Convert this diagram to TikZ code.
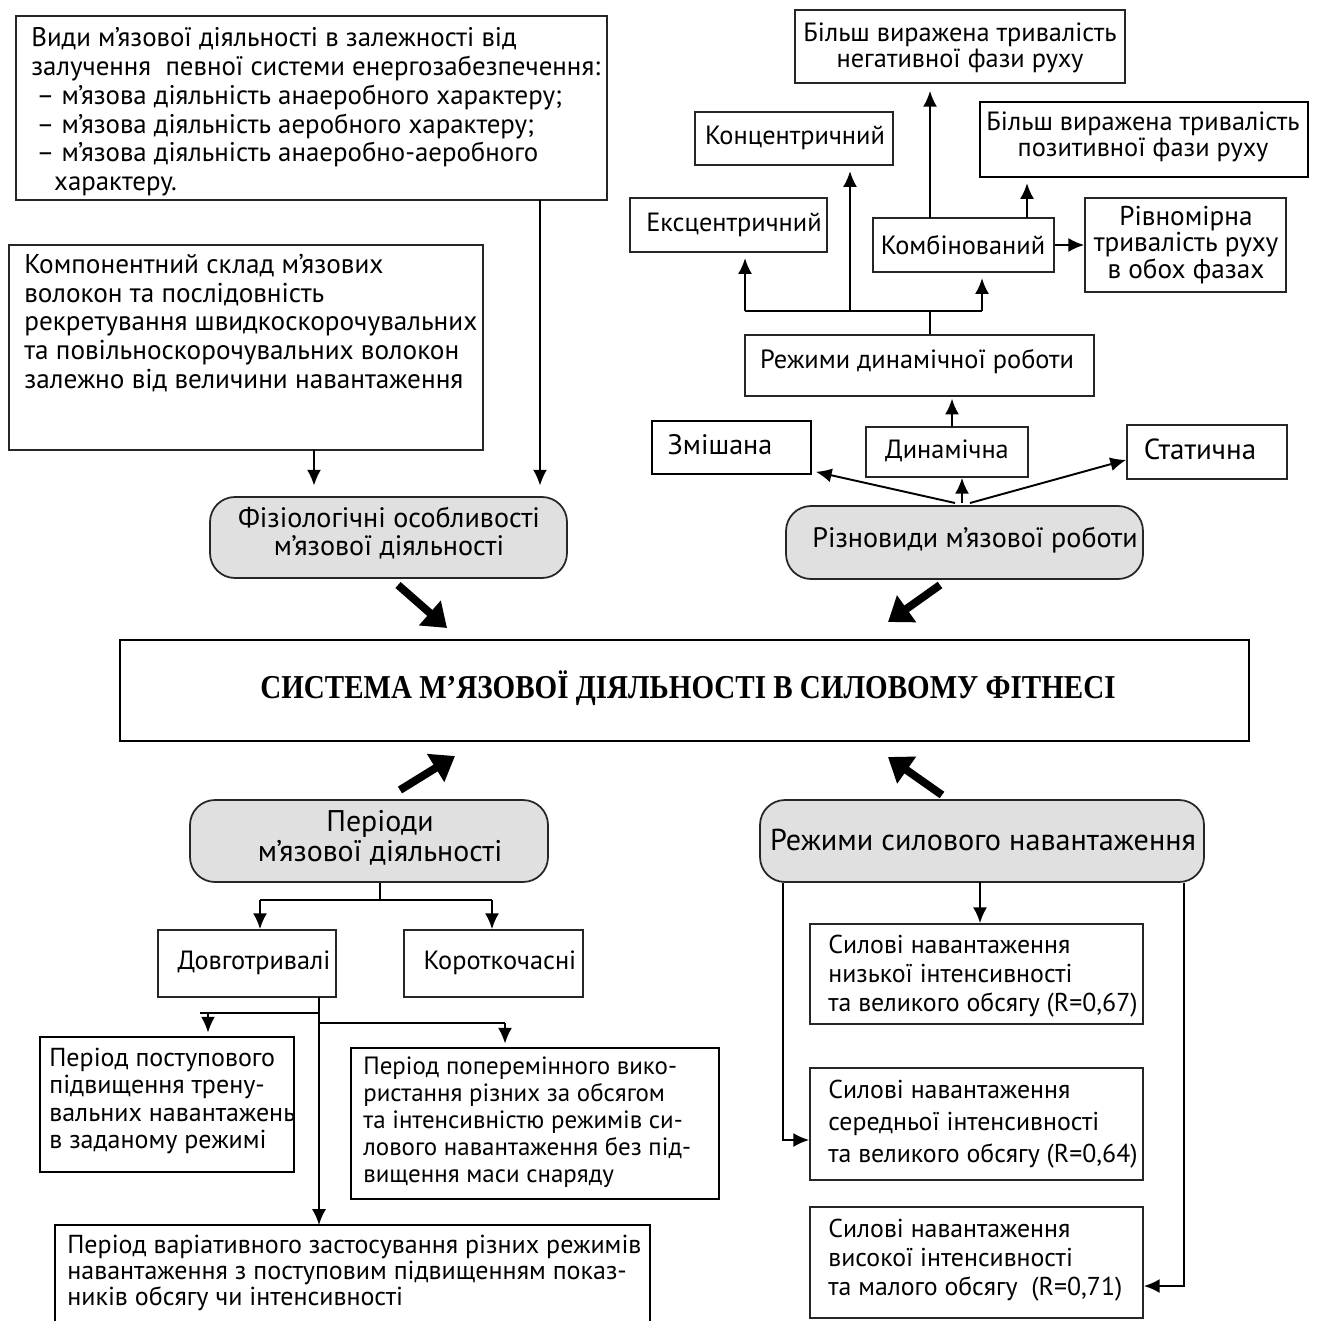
\documentclass[tikz,border=0pt]{standalone}
\usepackage{fontspec}
\usepackage{graphicx}
\setmainfont{PT Sans}
\newfontfamily\titlefont{Liberation Serif}
\usetikzlibrary{arrows.meta,fit,calc}
\begin{document}
\begin{tikzpicture}[x=0.02cm,y=-0.02cm,
 bx/.style={draw=black!85, line width=1pt, inner sep=0pt},
 rbx/.style={draw=black!85, line width=1pt, inner sep=0pt, rounded corners=0.5cm, fill=black!12},
 txt/.style={inner sep=0pt, align=left, font=\fontsize{15}{16.4}\selectfont},
 ctxt/.style={inner sep=0pt, align=center, font=\fontsize{15}{15.5}\selectfont},
 conn/.style={line width=1.1pt, draw=black},
 arr/.style={conn, -{Latex[length=9pt,width=8pt]}},
 bigarr/.style={line width=4.5pt, -{Triangle[length=13pt,width=18pt]}},
]
\fill[white] (0,0) rectangle (1319,1321);
\useasboundingbox (0,0) rectangle (1319,1321);

% ---- top left
\node[bx, fit={(16,16)(607,200)}] (A) {};
\node[txt, anchor=west, font=\fontsize{15.3}{16.4}\selectfont] (At) at (31,112) {Види м’язової діяльності в залежності від\\залучення\ \ певної системи енергозабезпечення:\\\hspace*{3pt}– м’язова діяльність анаеробного характеру;\\\hspace*{3pt}– м’язова діяльність аеробного характеру;\\\hspace*{3pt}– м’язова діяльність анаеробно-аеробного\\\hspace*{13pt}характеру.};
\node[bx, fit={(9,245)(483,450)}] (B) {};
\node[txt, anchor=west, font=\fontsize{15.5}{16.4}\selectfont] (Bt) at (24,323) {Компонентний склад м’язових\\волокон та послідовність\\рекретування швидкоскорочувальних\\та повільноскорочувальних волокон\\залежно від величини навантаження};
\node[rbx, fit={(210,497)(567,578)}] (Ph) {};
\node[ctxt, font=\fontsize{16}{15.5}\selectfont] (Pht) at (389,533) {Фізіологічні особливості\\м’язової діяльності};

% ---- top right
\node[bx, fit={(795,10)(1125,83)}] (Neg) {};
\node[ctxt, font=\fontsize{15}{14.7}\selectfont] (Negt) at (960,48) {Більш виражена тривалість\\негативної фази руху};
\node[bx, fit={(695,112)(893,165)}] (Kon) {};
\node[ctxt] (Kont) at (795,138) {Концентричний};
\node[bx, draw=black, fit={(980,102)(1308,177)}] (Pos) {};
\node[ctxt, font=\fontsize{15}{14.7}\selectfont] (Post) at (1143,137) {Більш виражена тривалість\\позитивної фази руху};
\node[bx, fit={(630,198)(827,252)}] (Ecc) {};
\node[ctxt] (Ecct) at (734,225) {Ексцентричний};
\node[bx, fit={(873,218)(1054,272)}] (Kom) {};
\node[ctxt] (Komt) at (963,245) {Комбінований};
\node[bx, fit={(1085,198)(1286,292)}] (Riv) {};
\node[ctxt, font=\fontsize{15.5}{15}\selectfont] (Rivt) at (1186,245) {Рівномірна\\тривалість руху\\в обох фазах};
\node[bx, fit={(745,335)(1094,396)}] (RDR) {};
\node[ctxt] (RDRt) at (917,362) {Режими динамічної роботи};
\node[bx, draw=black, line width=1.5pt, fit={(652,421)(811,474)}] (Zm) {};
\node[ctxt, font=\fontsize{16}{16}\selectfont] (Zmt) at (720,445) {Змішана};
\node[bx, fit={(866,427)(1028,477)}] (Dyn) {};
\node[ctxt] (Dynt) at (947,451) {Динамічна};
\node[bx, fit={(1127,425)(1287,479)}] (St) {};
\node[ctxt, font=\fontsize{16.5}{16}\selectfont] (Stt) at (1200,449) {Статична};
\node[rbx, fit={(786,506)(1143,579)}] (Rz) {};
\node[ctxt, font=\fontsize{16}{16}\selectfont] (Rzt) at (975,540) {Різновиди м’язової роботи};

% ---- centre
\node[bx, draw=black, line width=1.3pt, fit={(120,640)(1249,741)}] (C) {};
\node[inner sep=0pt] (Ct) at (688,688) {\scalebox{0.87}[1]{\titlefont\bfseries\fontsize{19}{20}\selectfont СИСТЕМА М’ЯЗОВОЇ ДІЯЛЬНОСТІ В СИЛОВОМУ ФІТНЕСІ}};

% ---- bottom left
\node[rbx, fit={(190,800)(548,882)}] (Per) {};
\node[ctxt, font=\fontsize{17}{17}\selectfont] (Pert) at (380,838) {Періоди\\м’язової діяльності};
\node[bx, fit={(158,930)(336,997)}] (Dov) {};
\node[ctxt] (Dovt) at (254,963) {Довготривалі};
\node[bx, fit={(404,930)(583,997)}] (Kor) {};
\node[ctxt] (Kort) at (500,963) {Короткочасні};
\node[bx, draw=black, fit={(40,1037)(294,1172)}] (PP) {};
\node[txt, anchor=west, font=\fontsize{14.8}{15.6}\selectfont] (PPt) at (49,1101) {Період поступового\\підвищення трену-\\вальних навантажень\\в заданому режимі};
\node[bx, draw=black, fit={(351,1048)(719,1199)}] (PN) {};
\node[txt, anchor=west, font=\fontsize{14.2}{15.4}\selectfont] (PNt) at (363,1122) {Період поперемінного вико-\\ристання різних за обсягом\\та інтенсивністю режимів си-\\лового навантаження без під-\\вищення маси снаряду};
\draw[bx, draw=black] (55,1330) |- (650,1225) -- (650,1330);
\coordinate (Vtop) at (319,1225);
\node[txt, anchor=west, font=\fontsize{14.8}{14.8}\selectfont] (Vt) at (67,1273) {Період варіативного застосування різних режимів\\навантаження з поступовим підвищенням показ-\\ників обсягу чи інтенсивності};

% ---- bottom right
\node[rbx, fit={(760,800)(1204,882)}] (RS) {};
\node[ctxt, font=\fontsize{17.2}{17}\selectfont] (RSt) at (983,840) {Режими силового навантаження};
\node[bx, fit={(810,924)(1143,1024)}] (S1) {};
\node[txt, anchor=west, font=\fontsize{14.7}{16.7}\selectfont] (S1t) at (828,976) {Силові навантаження\\низької інтенсивності\\та великого обсягу (R=0,67)};
\node[bx, fit={(810,1068)(1143,1180)}] (S2) {};
\node[txt, anchor=west, font=\fontsize{14.7}{18.1}\selectfont] (S2t) at (828,1124) {Силові навантаження\\середньої інтенсивності\\та великого обсягу (R=0,64)};
\node[bx, fit={(810,1207)(1143,1318)}] (S3) {};
\node[txt, anchor=west, font=\fontsize{14.7}{16.7}\selectfont] (S3t) at (828,1260) {Силові навантаження\\високої інтенсивності\\та малого обсягу\ \ (R=0,71)};

% ---- connectors top left
\coordinate (a1) at (540,200);
\draw[arr, shorten >=6pt] (a1) -- (a1 |- Ph.north);
\coordinate (b1) at (314,450);
\draw[arr, shorten >=6pt] (b1) -- (b1 |- Ph.north);

% ---- connectors top right
\coordinate (h1) at (745,311);
\coordinate (hc) at (850,311);
\coordinate (hm) at (930,311);
\coordinate (h2) at (982,311);
\draw[conn] (h1) -- (h2);
\draw[conn] (hm) -- (hm |- RDR.north);
\draw[arr, shorten >=3pt] (h1) -- (h1 |- Ecc.south);
\draw[arr, shorten >=3pt] (hc) -- (hc |- Kon.south);
\draw[arr, shorten >=3pt] (h2) -- (h2 |- Kom.south);
\coordinate (k1) at (930,218);
\draw[arr, shorten >=4pt] (k1) -- (k1 |- Neg.south);
\coordinate (k2) at (1027,218);
\draw[arr, shorten >=3pt] (k2) -- (k2 |- Pos.south);
\draw[arr] (Kom.east) -- (Riv.west |- Kom.east);
\coordinate (d1) at (952,427);
\draw[arr, shorten >=1pt] (d1) -- (d1 |- RDR.south);
\coordinate (r1) at (955,503);
\coordinate (r2) at (962,503);
\coordinate (r3) at (970,503);
\draw[arr] (r1) -- ([xshift=2pt,yshift=2pt]Zm.south east);
\draw[arr] (r2) -- (r2 |- Dyn.south);
\draw[arr] (r3) -- ([yshift=-4.5pt]St.west);

% ---- big arrows
\coordinate (t1s) at (398,585); \coordinate (t1) at (447,628);
\coordinate (t2s) at (940,585); \coordinate (t2) at (888,622);
\coordinate (t3s) at (400,790); \coordinate (t3) at (455,756);
\coordinate (t4s) at (942,795); \coordinate (t4) at (888,757);
\draw[bigarr] (t1s) -- (t1);
\draw[bigarr] (t2s) -- (t2);
\draw[bigarr] (t3s) -- (t3);
\draw[bigarr] (t4s) -- (t4);

% ---- connectors bottom left
\coordinate (p0) at (380,900);
\coordinate (p1) at (260,900);
\coordinate (p2) at (492,900);
\draw[conn] (p0 |- Per.south) -- (p0);
\draw[conn] (p1) -- (p2);
\draw[arr] (p1) -- (p1 |- Dov.north);
\draw[arr] (p2) -- (p2 |- Kor.north);
\coordinate (q0) at (319,997);
\coordinate (q1) at (319,1013);
\coordinate (q2) at (200,1013);
\coordinate (q3) at (208,1013);
\coordinate (q4) at (319,1023);
\coordinate (q5) at (505,1023);
\draw[arr] (q0) -- (Vtop);
\draw[conn] (q1) -- (q2);
\draw[arr, shorten >=2pt] (q3) -- (q3 |- PP.north);
\draw[conn] (q4) -- (q5);
\draw[arr, shorten >=2pt] (q5) -- (q5 |- PN.north);

% ---- connectors bottom right
\coordinate (m1) at (980,882);
\draw[arr] (m1) -- (m1 |- S1.north);
\coordinate (L1) at (783,1140);
\draw[arr] (L1 |- RS.south) -- (L1) -- (L1 -| S2.west);
\coordinate (R1) at (1184,1286);
\draw[arr] (R1 |- RS.south) -- (R1) -- (R1 -| S3.east);
\end{tikzpicture}
\end{document}
